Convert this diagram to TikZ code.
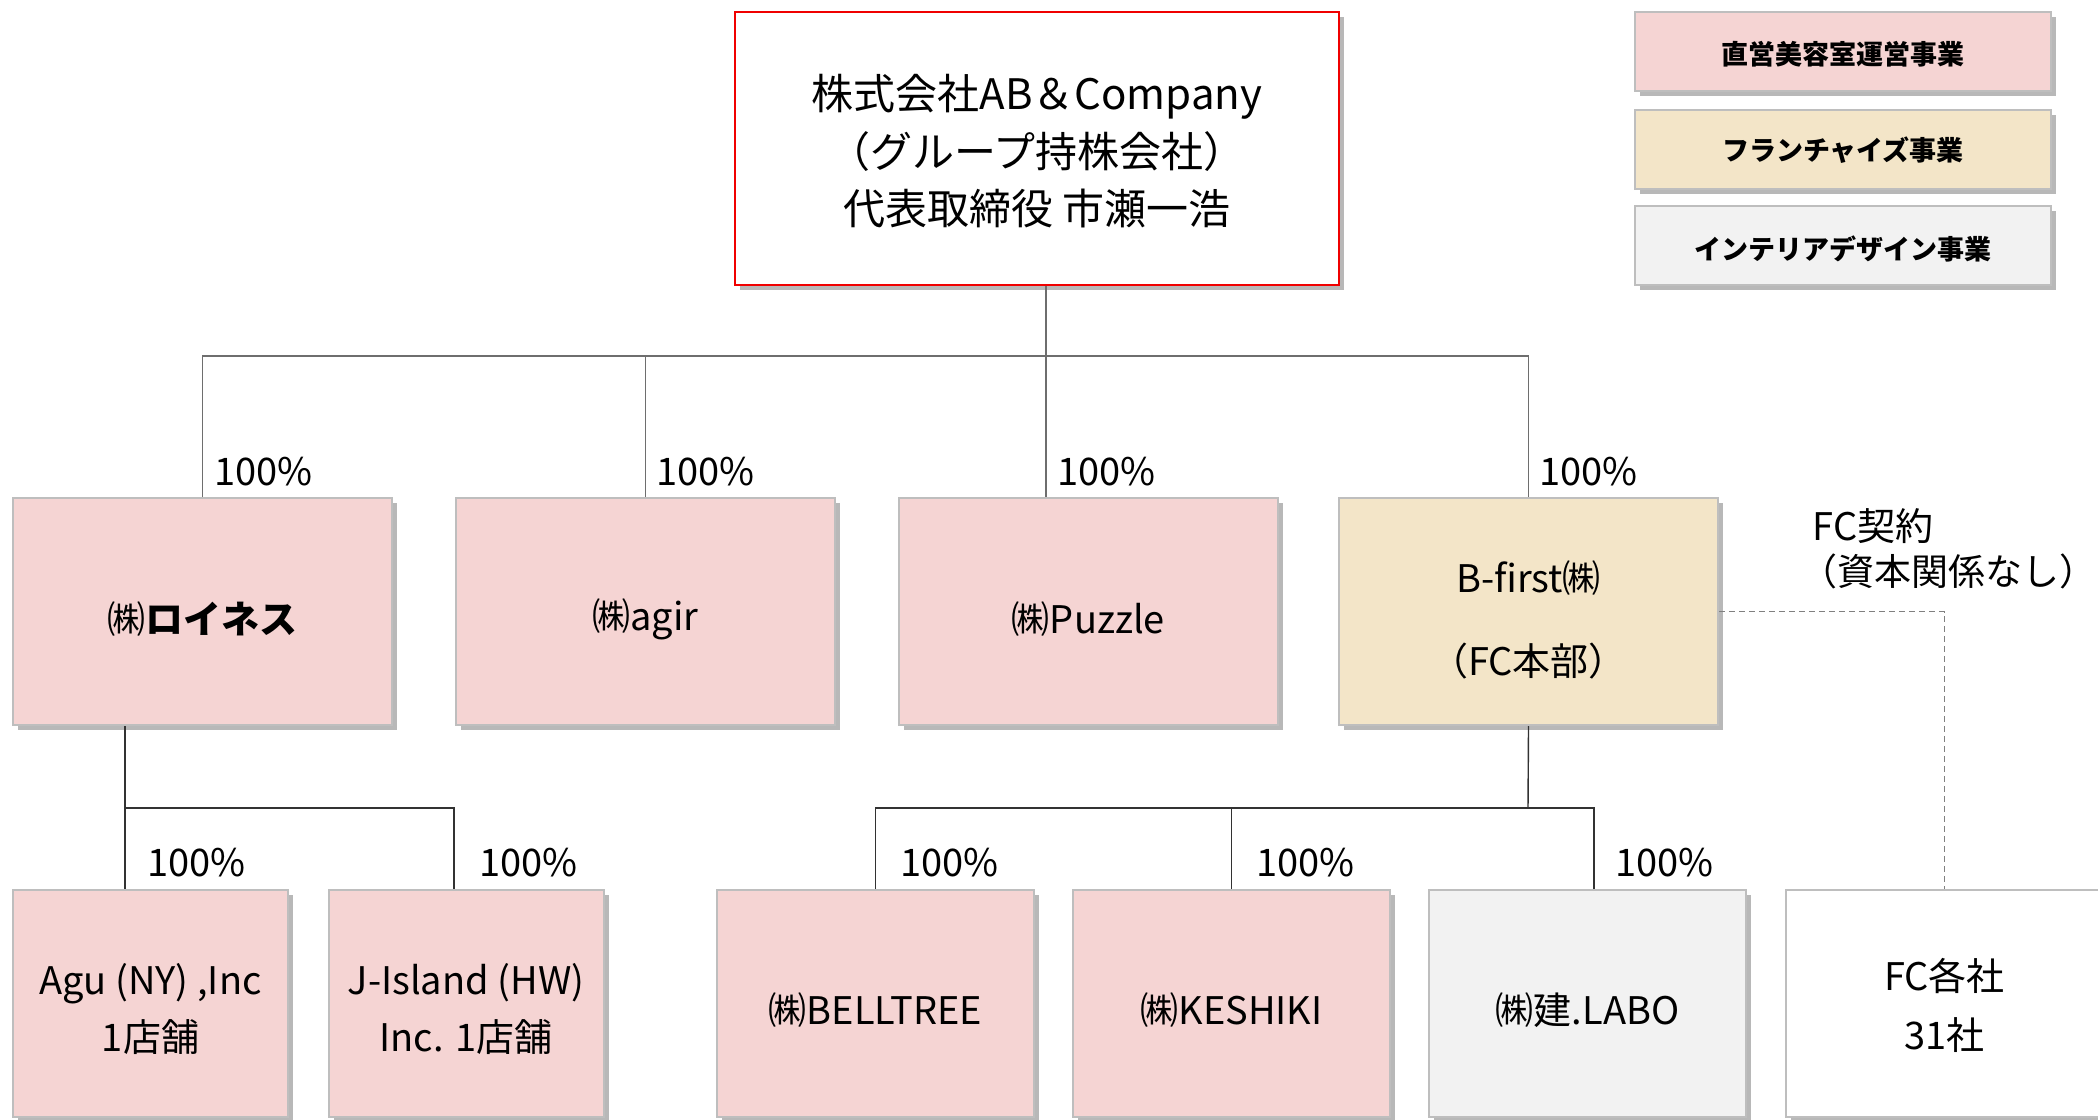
\documentclass[tikz,border=0pt]{standalone}
\usepackage{fontspec}
\setmainfont{Noto Sans CJK JP}
\usetikzlibrary{shadows}
\definecolor{pinkfill}{RGB}{245,212,211}
\definecolor{beigefill}{RGB}{243,229,200}
\definecolor{grayfill}{RGB}{242,242,242}
\definecolor{boxline}{RGB}{190,190,190}
\definecolor{topred}{RGB}{240,0,0}
\definecolor{linegray}{RGB}{110,110,110}
\definecolor{linedark}{RGB}{50,50,50}
\tikzset{
  box/.style={draw=boxline, line width=1pt, inner sep=0pt,
    drop shadow={shadow xshift=2.5pt, shadow yshift=-2.5pt, opacity=0.28, fill=black}},
  rowone/.style={box, minimum width=189.5pt, minimum height=113.5pt},
  rowtwo/.style={box, minimum width=158.5pt, minimum height=113.5pt},
  rowtwosmall/.style={box, minimum width=137.5pt, minimum height=113.5pt},
  legendbox/.style={box, minimum width=208pt, minimum height=39.5pt},
  boxtext/.style={inner sep=0pt, align=center, font=\fontsize{19}{28.5}\selectfont},
  legendtext/.style={inner sep=0pt, font=\fontsize{13.5}{16}\selectfont\bfseries},
  pct/.style={anchor=west, inner sep=0pt, font=\fontsize{19}{23}\selectfont},
  conn/.style={draw=linedark, line width=0.7pt},
  conntop/.style={draw=linegray, line width=0.7pt},
  fcdash/.style={draw=gray, line width=0.6pt, dash pattern=on 3pt off 2pt}
}
\begin{document}
\begin{tikzpicture}[x=0.5pt, y=-0.5pt]
\useasboundingbox (0,0) rectangle (2098,1119);
\clip (0,0) rectangle (2098,1119);
\fill[white] (0,0) rectangle (2098,1119);

% top holding company
\node[box, draw=topred, line width=1.3pt, fill=white, minimum width=302pt, minimum height=136.5pt] (top) at (1037,148.5) {};
\node[boxtext, font=\fontsize{21}{28.75}\selectfont] (top-t) at ([yshift=-1.3pt]top.center)
  {株式会社AB＆Company\\（グループ持株会社）\\代表取締役 市瀬一浩};

% legend
\node[legendbox, fill=pinkfill] (lg1) at (1843,51.5) {};
\node[legendbox, fill=beigefill] (lg2) at (1843,149.5) {};
\node[legendbox, fill=grayfill] (lg3) at (1843,245.5) {};
\node[legendtext] (lg1-t) at ([yshift=-1.5pt]lg1.center) {直営美容室運営事業};
\node[legendtext] (lg2-t) at ([yshift=-0.3pt]lg2.center) {フランチャイズ事業};
\node[legendtext] (lg3-t) at ([yshift=-1.5pt]lg3.center) {インテリアデザイン事業};

% row 1
\node[rowone, fill=pinkfill] (roines) at (202.5,611.5) {};
\node[rowone, fill=pinkfill] (agir) at (645.5,611.5) {};
\node[rowone, fill=pinkfill] (puzzle) at (1088.5,611.5) {};
\node[rowone, fill=beigefill] (bfirst) at (1528.5,611.5) {};
\node[boxtext] (roines-t) at ([yshift=-4pt]roines.center) {㈱\textbf{ロイネス}};
\node[boxtext] (agir-t) at ([yshift=-4pt]agir.center) {㈱agir};
\node[boxtext] (puzzle-t) at ([yshift=-4pt]puzzle.center) {㈱Puzzle};
\node[boxtext] (bfirst-t) at ([yshift=-4pt]bfirst.center) {B-first㈱\\[13pt]（FC本部）};

% row 2
\node[rowtwosmall, fill=pinkfill] (agu) at (150.5,1003.5) {};
\node[rowtwosmall, fill=pinkfill] (jisland) at (466,1003.5) {};
\node[rowtwo, fill=pinkfill] (belltree) at (875.5,1003.5) {};
\node[rowtwo, fill=pinkfill] (keshiki) at (1231.5,1003.5) {};
\node[rowtwo, fill=grayfill] (labo) at (1587.5,1003.5) {};
\node[rowtwo, fill=white] (fc) at (1944.5,1003.5) {};
\node[boxtext] (agu-t) at ([yshift=-2.7pt]agu.center) {Agu (NY) ,Inc\\1店舗};
\node[boxtext] (jisland-t) at ([yshift=-2.7pt]jisland.center) {J-Island (HW)\\Inc. 1店舗};
\node[boxtext] (belltree-t) at ([yshift=-3.3pt]belltree.center) {㈱BELLTREE};
\node[boxtext] (keshiki-t) at ([yshift=-3.3pt]keshiki.center) {㈱KESHIKI};
\node[boxtext] (labo-t) at ([yshift=-3.3pt]labo.center) {㈱建.LABO};
\node[boxtext, font=\fontsize{19}{29.5}\selectfont] (fc-t) at ([yshift=-0.7pt]fc.center) {FC各社\\31社};

% connectors from the holding company
\coordinate (hub) at (1046,356);
\draw[conntop] (top.south -| hub) -- (hub);
\draw[conntop] (roines.north) |- (hub);
\draw[conntop] (agir.north) |- (hub);
\draw[conntop] (hub) -- (hub |- puzzle.north);
\draw[conntop] (bfirst.north) |- (hub);

% connectors from roines
\coordinate (rj) at (125,808);
\draw[conn] (roines.south -| rj) -- (agu.north -| rj);
\draw[conn] (rj) -| ([xshift=-6pt]jisland.north);

% connectors from bfirst
\coordinate (bh) at (1528,808);
\draw[conn] (bfirst.south) -- (bh);
\draw[conn] (belltree.north) |- (bh);
\draw[conn] (keshiki.north) |- (bh);
\draw[conn] ([xshift=3.25pt]labo.north) |- (bh);

% franchise contract (dashed)
\draw[fcdash] (bfirst.east) -| (fc.north);
\node[pct] (fck) at (1812,526) {FC契約};
\node[pct, font=\fontsize{18.5}{22}\selectfont] (fcn) at (1800,571) {（資本関係なし）};

% percentage labels
\node[pct] (p1) at (214,472) {100\%};
\node[pct] (p2) at (656,472) {100\%};
\node[pct] (p3) at (1057,472) {100\%};
\node[pct] (p4) at (1539,472) {100\%};
\node[pct] (p5) at (147,863) {100\%};
\node[pct] (p6) at (479,863) {100\%};
\node[pct] (p7) at (900,863) {100\%};
\node[pct] (p8) at (1256,863) {100\%};
\node[pct] (p9) at (1615,863) {100\%};
\end{tikzpicture}
\end{document}
